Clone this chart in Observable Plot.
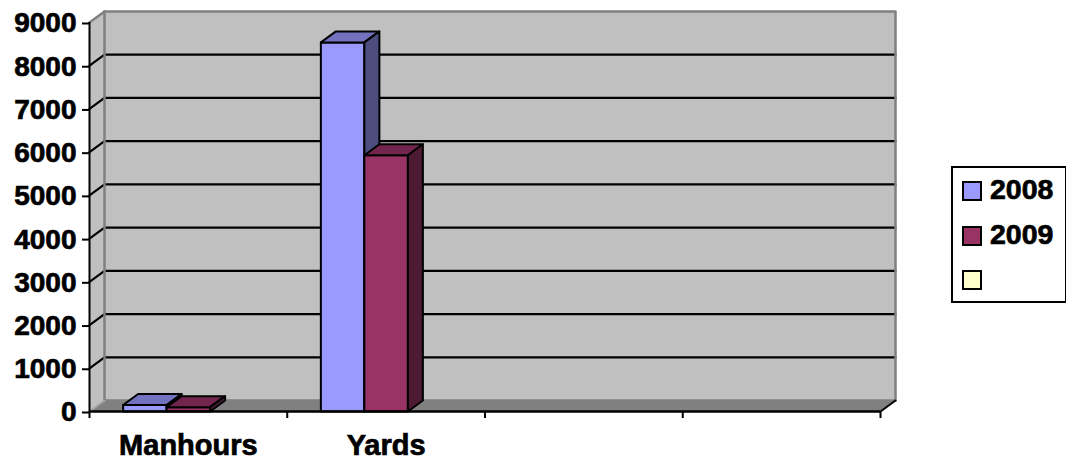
<!DOCTYPE html>
<html>
<head>
<meta charset="utf-8">
<script src="https://cdn.jsdelivr.net/npm/d3@7"></script>
<script src="https://cdn.jsdelivr.net/npm/@observablehq/plot@0.6"></script>
<style>
  html, body { margin: 0; padding: 0; background: white; }
  #wrap { position: relative; width: 1066px; height: 466px; overflow: hidden; font-family: "Liberation Sans", Arial, sans-serif; }
  #legend { position: absolute; left: 951px; top: 166px; width: 112px; height: 133px; border: 2px solid black; background: white; }
  .item { position: absolute; left: 9px; height: 20px; }
  .sw { position: absolute; left: 0; top: 0; width: 16px; height: 16px; border: 2px solid black; }
  .lab { position: absolute; left: 28px; top: -9px; font-weight: bold; font-size: 28.5px; line-height: 34px; color: black; white-space: nowrap; -webkit-text-stroke: 0.7px black; }
  svg text { stroke: black; stroke-width: 0.7px; }
</style>
</head>
<body>
<div id="wrap"></div>
<script>
// ---- data ----
const categories = ["Manhours", "Yards", "", ""];
const series = ["2008", "2009", ""];
const values2008 = [150, 8540, null, null];
const values2009 = [100, 5930, null, null];
const yTicks = [0, 1000, 2000, 3000, 4000, 5000, 6000, 7000, 8000, 9000];

// ---- styles ----
const frontColors = ["#9999FF", "#993366", "#FFFFCC"];
const topColors = ["#7272BF", "#73264D", "#BFBF99"];
const sideColors = ["#4D4D80", "#4D1A33", "#808066"];

const W = 1066, H = 466;
const mL = 89, mR = 186, mT = 22, mB = 55;
const nSlots = categories.length;
const yMax = 9000;
// depth offset (pixels) converted into data units
const DXpx = 15, DYpx = 11;
const DX = DXpx * nSlots / (W - mL - mR);
const DY = DYpx * yMax / (H - mT - mB);
const barOff = 0.17, barW = 0.22;

const polys = [];
function poly(id, pts, fill) {
  pts.forEach(([x, y]) => polys.push({id, x, y, fill}));
}
const seriesValues = [values2008, values2009];
categories.forEach((c, i) => {
  seriesValues.forEach((vals, s) => {
    const v = vals[i];
    if (v == null) return;
    const x0 = i + barOff + s * barW, x1 = x0 + barW;
    poly(`f${i}${s}`, [[x0, 0], [x1, 0], [x1, v], [x0, v]], frontColors[s]);
    poly(`t${i}${s}`, [[x0, v], [x1, v], [x1 + DX, v + DY], [x0 + DX, v + DY]], topColors[s]);
    poly(`s${i}${s}`, [[x1, 0], [x1 + DX, DY], [x1 + DX, v + DY], [x1, v]], sideColors[s]);
  });
});

const walls = [];
walls.push(...[[DX, DY], [nSlots + DX, DY], [nSlots + DX, yMax + DY], [DX, yMax + DY]].map(([x, y]) => ({id: "back", x, y, fill: "#C0C0C0"})));
walls.push(...[[0, 0], [DX, DY], [DX, yMax + DY], [0, yMax]].map(([x, y]) => ({id: "left", x, y, fill: "#C0C0C0"})));
walls.push(...[[0, 0], [nSlots, 0], [nSlots + DX, DY], [DX, DY]].map(([x, y]) => ({id: "floor", x, y, fill: "#808080"})));

const grid = [];
yTicks.filter(v => v > 0 && v < yMax).forEach(v => {
  grid.push({id: v, x: 0, y: v}, {id: v, x: DX, y: v + DY}, {id: v, x: nSlots + DX, y: v + DY});
});

const border = [
  {id: "a", x: 0, y: yMax}, {id: "a", x: DX, y: yMax + DY}, {id: "a", x: nSlots + DX, y: yMax + DY}, {id: "a", x: nSlots + DX, y: DY},
  {id: "b", x: DX, y: yMax + DY}, {id: "b", x: DX, y: DY}, {id: "b", x: nSlots + DX, y: DY},
];
const floorEdge = [{id: "c", x: 0, y: 0}, {id: "c", x: DX, y: DY}];
const floorRight = [{id: "d", x: nSlots, y: 0}, {id: "d", x: nSlots + DX, y: DY}];

const xTicks = d3.range(0, nSlots + 1);
const catLabels = categories.map((c, i) => ({x: i + 0.5, label: c}));

const chart = Plot.plot({
  width: W, height: H,
  marginLeft: mL, marginRight: mR, marginTop: mT, marginBottom: mB,
  x: {domain: [0, nSlots]},
  y: {domain: [0, yMax]},
  color: {type: "identity"},
  style: {fontFamily: "'Liberation Sans', Arial, sans-serif", background: "white", overflow: "visible", color: "black"},
  marks: [
    Plot.line(walls, {x: "x", y: "y", z: "id", fill: "fill", stroke: "none", curve: "linear-closed"}),
    Plot.line(grid, {x: "x", y: "y", z: "id", stroke: "black", strokeWidth: 2.2}),
    Plot.line(border, {x: "x", y: "y", z: "id", stroke: "#808080", strokeWidth: 2.5}),
    Plot.line(floorEdge, {x: "x", y: "y", z: "id", stroke: "#A6A6A6", strokeWidth: 2}),
    Plot.line(floorRight, {x: "x", y: "y", z: "id", stroke: "black", strokeWidth: 2}),
    Plot.line(polys, {x: "x", y: "y", z: "id", fill: "fill", stroke: "black", strokeWidth: 2, strokeLinejoin: "round", curve: "linear-closed"}),
    Plot.ruleX([0], {y1: 0, y2: yMax, stroke: "black", strokeWidth: 2}),
    Plot.ruleY([0], {x1: 0, x2: nSlots, stroke: "black", strokeWidth: 2.5}),
    Plot.axisY({ticks: yTicks, tickSize: 7, tickPadding: 6, tickFormat: d3.format("d"), fontSize: 28, fontWeight: "bold", strokeWidth: 2, dy: 1, label: null}),
    Plot.axisX({ticks: xTicks, tickSize: 7, tickFormat: () => "", strokeWidth: 2, label: null}),
    Plot.text(catLabels, {x: "x", y: 0, text: "label", dy: 34, fontSize: 29, fontWeight: "bold", textAnchor: "middle", fill: "black"})
  ]
});

const wrap = document.getElementById("wrap");
wrap.appendChild(chart);

const legend = document.createElement("div");
legend.id = "legend";
series.forEach((s, i) => {
  const item = document.createElement("div");
  item.className = "item";
  item.style.top = (13 + i * 44.7) + "px";
  const sw = document.createElement("div");
  sw.className = "sw";
  sw.style.background = frontColors[i];
  const lab = document.createElement("div");
  lab.className = "lab";
  lab.textContent = s;
  item.appendChild(sw);
  item.appendChild(lab);
  legend.appendChild(item);
});
wrap.appendChild(legend);
</script>
</body>
</html>
